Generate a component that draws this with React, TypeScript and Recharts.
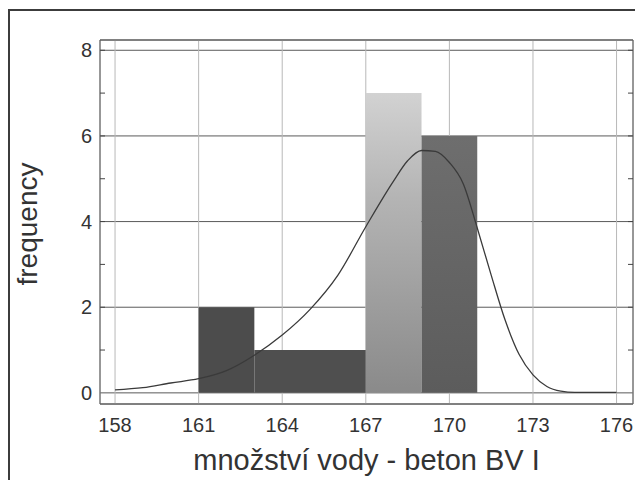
import {
  Area,
  CartesianGrid,
  ComposedChart,
  Line,
  XAxis,
  YAxis,
} from "recharts";

// histogram bins (water amount) and their counts
const binStart = [161, 163, 167, 169];
const binEnd = [163, 167, 169, 171];
const binCount = [2, 1, 7, 6];

// fitted density curve
const curveX = [
  158, 159, 160, 161, 162, 163, 164, 165, 166, 167, 168, 168.5, 169, 169.5,
  170, 170.5, 171, 171.5, 172, 172.5, 173, 173.5, 174, 174.5, 175, 176,
];
const curveY = [
  0.07, 0.12, 0.23, 0.33, 0.52, 0.88, 1.35, 1.95, 2.75, 3.88, 4.95, 5.42,
  5.66, 5.64, 5.38, 4.88, 3.85, 2.75, 1.7, 0.9, 0.42, 0.15, 0.04, 0.01, 0.01,
  0.01,
];

const xTicks = [158, 161, 164, 167, 170, 173, 176];
const yTicks = [0, 2, 4, 6, 8];
const yMinorTicks = [
  0.5, 1, 1.5, 2, 2.5, 3, 3.5, 4, 4.5, 5, 5.5, 6, 6.5, 7, 7.5, 8,
];

const xDomain = [157.46, 176.59];
const yDomain = [-0.26, 8.24];

const binFill = ["#4c4c4c", "#4f4f4f", "url(#lightBin)", "url(#midBin)"];

// one row per curve point; each bin is a flat area over its own x range
const chartData = curveX.map((x, i) => {
  const row: Record<string, number | null> = { x, y: curveY[i] };
  binCount.forEach((count, b) => {
    row["bin" + b] = x >= binStart[b] && x <= binEnd[b] ? count : null;
  });
  return row;
});

const font = '"Liberation Sans", Arial, sans-serif';

// minor tick marks only, no labels
const NoLabel = () => <g />;

export default function App() {
  return (
    <div
      style={{
        position: "relative",
        top: 1,
        width: 633,
        height: 472,
        boxSizing: "border-box",
        borderTop: "2px solid #3c3c3c",
        borderLeft: "2px solid #3c3c3c",
        borderRight: "1px solid #9a9a9a",
        fontFamily: font,
        fontSize: 20,
        background: "#fff",
      }}
    >
      <div
        style={{
          position: "absolute",
          left: 18,
          top: 213,
          transform: "translate(-50%, -50%) rotate(-90deg)",
          fontSize: 28,
          color: "#333",
          whiteSpace: "nowrap",
        }}
      >
        frequency
      </div>
      <ComposedChart
        width={630}
        height={470}
        data={chartData}
        margin={{ top: 28, right: 0, bottom: 0, left: 30 }}
        style={{ fontSize: 20 }}
      >
        <defs>
          <linearGradient id="lightBin" x1="0" y1="0" x2="0" y2="1">
            <stop offset="0%" stopColor="#d2d2d2" />
            <stop offset="35%" stopColor="#b4b4b4" />
            <stop offset="100%" stopColor="#8a8a8a" />
          </linearGradient>
          <linearGradient id="midBin" x1="0" y1="0" x2="0" y2="1">
            <stop offset="0%" stopColor="#6e6e6e" />
            <stop offset="100%" stopColor="#5c5c5c" />
          </linearGradient>
        </defs>
        <CartesianGrid vertical={false} stroke="#5a5a5a" />
        <CartesianGrid horizontal={false} stroke="#b8b8b8" />
        <XAxis
          xAxisId="top"
          orientation="top"
          type="number"
          domain={xDomain}
          allowDataOverflow
          height={1}
          tick={false}
          tickLine={false}
          axisLine={{ stroke: "#555" }}
        />
        <XAxis
          dataKey="x"
          type="number"
          domain={xDomain}
          allowDataOverflow
          ticks={xTicks}
          height={77}
          tickLine={false}
          tickSize={0}
          tickMargin={14}
          axisLine={{ stroke: "#555" }}
          tick={{ fill: "#333", style: { fontSize: 20 } }}
          label={{
            value: "množství vody - beton BV I",
            position: "insideBottom",
            offset: 11,
            fontSize: 29,
            fill: "#333",
          }}
        />
        <YAxis
          type="number"
          domain={yDomain}
          allowDataOverflow
          ticks={yTicks}
          width={60}
          tickLine={false}
          tickSize={0}
          tickMargin={8}
          axisLine={{ stroke: "#555" }}
          tick={{ fill: "#333", style: { fontSize: 20 } }}
        />
        <YAxis
          yAxisId="leftMinor"
          type="number"
          domain={yDomain}
          allowDataOverflow
          ticks={yMinorTicks}
          mirror
          width={0.01}
          tick={NoLabel}
          tickSize={5}
          axisLine={false}
          tickLine={{ stroke: "#444" }}
        />
        <YAxis
          yAxisId="right"
          orientation="right"
          type="number"
          domain={yDomain}
          allowDataOverflow
          width={7}
          tick={false}
          tickLine={false}
          axisLine={{ stroke: "#555" }}
        />
        <YAxis
          yAxisId="rightMinor"
          orientation="right"
          type="number"
          domain={yDomain}
          allowDataOverflow
          ticks={yMinorTicks}
          mirror
          width={4}
          tick={NoLabel}
          tickSize={5}
          axisLine={false}
          tickLine={{ stroke: "#444" }}
        />
        {binCount.map((_, b) => (
          <Area
            key={b}
            dataKey={"bin" + b}
            type="linear"
            baseValue={0}
            fill={binFill[b]}
            fillOpacity={1}
            stroke="none"
            dot={false}
            activeDot={false}
            isAnimationActive={false}
          />
        ))}
        <Line
          dataKey="y"
          type="monotone"
          stroke="#3a3a3a"
          strokeWidth={1.3}
          dot={false}
          activeDot={false}
          isAnimationActive={false}
        />
      </ComposedChart>
    </div>
  );
}
